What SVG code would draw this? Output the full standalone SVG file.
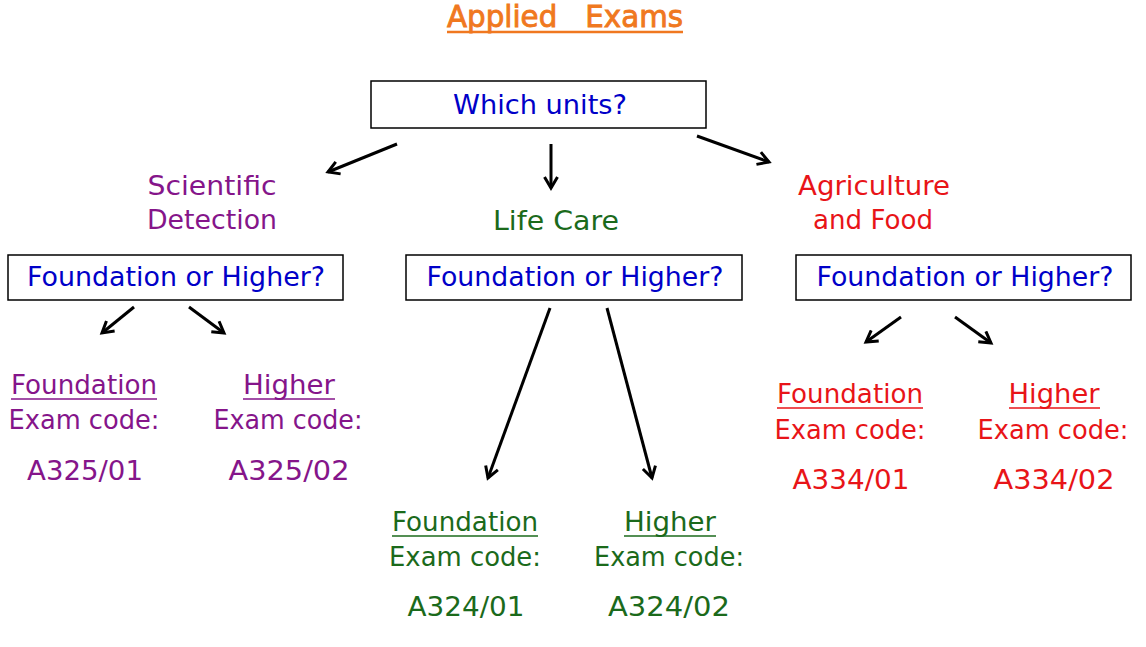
<svg xmlns="http://www.w3.org/2000/svg" width="1146" height="647" viewBox="0 0 1146 647">
<defs>
<marker id="arr" viewBox="0 0 16 16" refX="13" refY="8" markerWidth="16" markerHeight="16" markerUnits="userSpaceOnUse" orient="auto">
<path d="M2,1.5 L13,8 L2,14.5" fill="none" stroke="#000" stroke-width="3" stroke-linejoin="miter"/>
</marker>
</defs>
<style>
text{font-family:"DejaVu Sans","Liberation Sans",sans-serif;text-anchor:middle;font-size:26px}
.title{font-size:31px;fill:#f07820;stroke:#f07820;stroke-width:0.9px}
.root{font-size:27px}
.box{fill:#fff;stroke:#000;stroke-width:1.5}
.q{fill:#0000c8}
.pu{fill:#85158a}
.gr{fill:#1b6a1b}
.rd{fill:#e81418}
.ul{stroke-width:1.5}
.conn line{stroke:#000;stroke-width:3;marker-end:url(#arr)}
</style>
<rect width="1146" height="647" fill="#fff"/>
<g id="title">
<text class="title" x="565" y="27" xml:space="preserve" textLength="236" lengthAdjust="spacingAndGlyphs">Applied   Exams</text>
<line x1="447" y1="32" x2="683" y2="32" stroke="#f07820" stroke-width="2.5"/>
</g>
<g id="root">
<rect class="box" x="371" y="81" width="335" height="47"/>
<text class="q root" x="540" y="114" textLength="174" lengthAdjust="spacingAndGlyphs">Which units?</text>
</g>
<g id="sci">
<text class="pu" x="212" y="195" textLength="129" lengthAdjust="spacingAndGlyphs">Scientific</text>
<text class="pu" x="212" y="229" textLength="130" lengthAdjust="spacingAndGlyphs">Detection</text>
</g>
<g id="life">
<text class="gr" x="556" y="230" textLength="126" lengthAdjust="spacingAndGlyphs">Life Care</text>
</g>
<g id="agri">
<text class="rd" x="874" y="195" textLength="152" lengthAdjust="spacingAndGlyphs">Agriculture</text>
<text class="rd" x="873" y="229" textLength="120" lengthAdjust="spacingAndGlyphs">and Food</text>
</g>
<g id="q-sci">
<rect class="box" x="8" y="255" width="335" height="45"/>
<text class="q" x="176" y="286" textLength="298" lengthAdjust="spacingAndGlyphs">Foundation or Higher?</text>
</g>
<g id="q-life">
<rect class="box" x="406" y="255" width="336" height="45"/>
<text class="q" x="575" y="286" textLength="297" lengthAdjust="spacingAndGlyphs">Foundation or Higher?</text>
</g>
<g id="q-agri">
<rect class="box" x="796" y="255" width="335" height="45"/>
<text class="q" x="965" y="286" textLength="297" lengthAdjust="spacingAndGlyphs">Foundation or Higher?</text>
</g>
<g id="sci-f" class="pu">
<text x="84" y="394" textLength="146" lengthAdjust="spacingAndGlyphs">Foundation</text>
<line class="ul" x1="11" y1="399" x2="157" y2="399" stroke="#85158a"/>
<text x="84" y="429" textLength="151" lengthAdjust="spacingAndGlyphs">Exam code:</text>
<text x="85" y="480" textLength="116" lengthAdjust="spacingAndGlyphs">A325/01</text>
</g>
<g id="sci-h" class="pu">
<text x="289" y="394" textLength="92" lengthAdjust="spacingAndGlyphs">Higher</text>
<line class="ul" x1="243" y1="399" x2="335" y2="399" stroke="#85158a"/>
<text x="288" y="429" textLength="149" lengthAdjust="spacingAndGlyphs">Exam code:</text>
<text x="289" y="480" textLength="121" lengthAdjust="spacingAndGlyphs">A325/02</text>
</g>
<g id="life-f" class="gr">
<text x="465" y="531" textLength="146" lengthAdjust="spacingAndGlyphs">Foundation</text>
<line class="ul" x1="392" y1="536" x2="538" y2="536" stroke="#1b6a1b"/>
<text x="465" y="566" textLength="152" lengthAdjust="spacingAndGlyphs">Exam code:</text>
<text x="466" y="616" textLength="117" lengthAdjust="spacingAndGlyphs">A324/01</text>
</g>
<g id="life-h" class="gr">
<text x="670" y="531" textLength="92" lengthAdjust="spacingAndGlyphs">Higher</text>
<line class="ul" x1="624" y1="536" x2="716" y2="536" stroke="#1b6a1b"/>
<text x="669" y="566" textLength="150" lengthAdjust="spacingAndGlyphs">Exam code:</text>
<text x="669" y="616" textLength="122" lengthAdjust="spacingAndGlyphs">A324/02</text>
</g>
<g id="agri-f" class="rd">
<text x="850" y="403" textLength="146" lengthAdjust="spacingAndGlyphs">Foundation</text>
<line class="ul" x1="777" y1="408" x2="923" y2="408" stroke="#e81418"/>
<text x="850" y="439" textLength="151" lengthAdjust="spacingAndGlyphs">Exam code:</text>
<text x="851" y="489" textLength="117" lengthAdjust="spacingAndGlyphs">A334/01</text>
</g>
<g id="agri-h" class="rd">
<text x="1054" y="403" textLength="91" lengthAdjust="spacingAndGlyphs">Higher</text>
<line class="ul" x1="1009" y1="408" x2="1100" y2="408" stroke="#e81418"/>
<text x="1053" y="439" textLength="151" lengthAdjust="spacingAndGlyphs">Exam code:</text>
<text x="1054" y="489" textLength="121" lengthAdjust="spacingAndGlyphs">A334/02</text>
</g>
<g id="connectors" class="conn">
<line x1="397" y1="144" x2="328" y2="172"/>
<line x1="551" y1="144" x2="551" y2="188"/>
<line x1="697" y1="136" x2="769" y2="162"/>
<line x1="134" y1="307" x2="102" y2="333"/>
<line x1="189" y1="307" x2="224" y2="333"/>
<line x1="550" y1="308" x2="488" y2="478"/>
<line x1="607" y1="308" x2="652" y2="478"/>
<line x1="901" y1="317" x2="866" y2="342"/>
<line x1="955" y1="317" x2="991" y2="343"/>
</g>
</svg>
